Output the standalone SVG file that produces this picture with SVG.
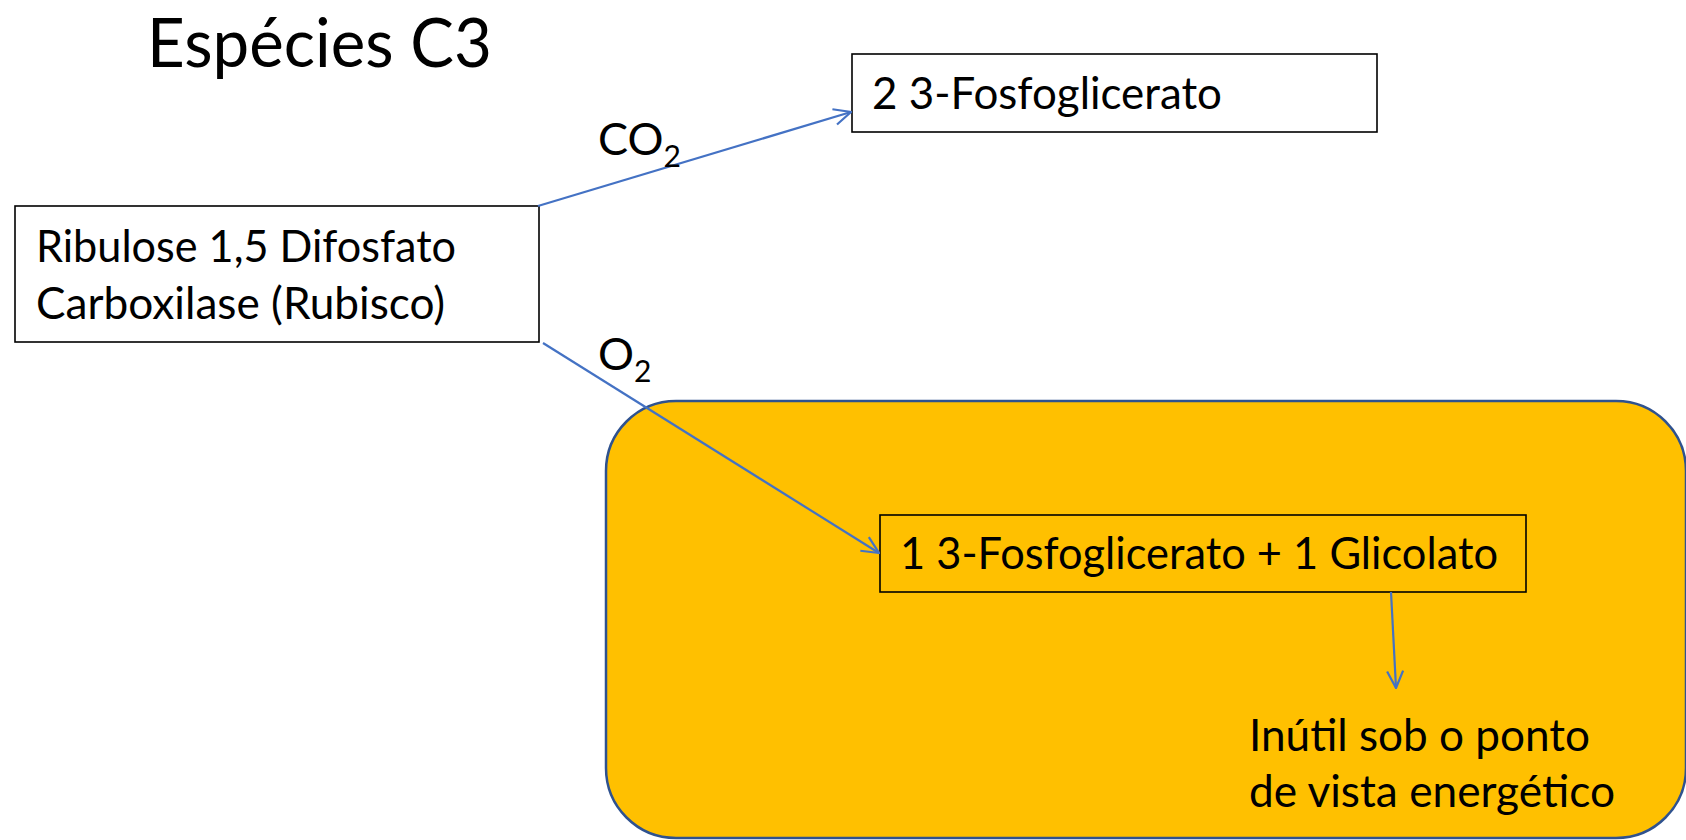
<svg xmlns="http://www.w3.org/2000/svg" width="1686" height="840" viewBox="0 0 1686 840">
<style>
.t{font-family:Lato,"Open Sans","Liberation Sans",sans-serif;fill:#000;}
.n{font-size:45px;}
.s{font-size:30px;}
.box{fill:#fff;stroke:#000;stroke-width:1.6;}
.boxc{fill:none;stroke:#000;stroke-width:1.6;}
.c{stroke:#4472C4;stroke-width:2.2;fill:none;marker-end:url(#ah);}
</style>
<defs>
<marker id="ah" viewBox="0 0 20 20" refX="19" refY="10" markerWidth="20" markerHeight="20" markerUnits="userSpaceOnUse" orient="auto">
<path d="M2,2 L19,10 L2,18" fill="none" stroke="#4472C4" stroke-width="2.2"/>
</marker>
</defs>
<rect width="1686" height="840" fill="#fff"/>
<text id="title" class="t" x="147" y="67" font-size="68" textLength="345" lengthAdjust="spacingAndGlyphs">Espécies C3</text>
<g id="zone">
<rect x="606" y="401" width="1080" height="437" rx="70" ry="70" fill="#FFC000" stroke="#2F528F" stroke-width="2.5"/>
</g>
<g id="rubisco">
<rect class="box" x="15" y="206" width="524" height="136"/>
<text class="t n" x="36" y="262" textLength="420" lengthAdjust="spacingAndGlyphs">Ribulose 1,5 Difosfato</text>
<text class="t n" x="36" y="319" textLength="409" lengthAdjust="spacingAndGlyphs">Carboxilase (Rubisco)</text>
</g>
<g id="fosfo2">
<rect class="box" x="852" y="54" width="525" height="78"/>
<text class="t n" x="872" y="109" textLength="350" lengthAdjust="spacingAndGlyphs">2 3-Fosfoglicerato</text>
</g>
<g id="fosfoglic">
<rect class="boxc" x="880" y="515" width="646" height="77"/>
<text class="t n" x="900" y="569" textLength="598" lengthAdjust="spacingAndGlyphs">1 3-Fosfoglicerato + 1 Glicolato</text>
</g>
<g id="inutil">
<text class="t n" x="1249" y="751" textLength="341" lengthAdjust="spacingAndGlyphs">Inútil sob o ponto</text>
<text class="t n" x="1249" y="807" textLength="366" lengthAdjust="spacingAndGlyphs">de vista energético</text>
</g>
<g id="connectors">
<line class="c" x1="538" y1="206" x2="851" y2="112"/>
<line class="c" x1="543" y1="343" x2="879" y2="553"/>
<line class="c" x1="1391" y1="592" x2="1396" y2="688"/>
</g>
<g id="labels">
<text class="t n" x="598" y="155">CO<tspan class="s" dy="12">2</tspan></text>
<text class="t n" x="598" y="370">O<tspan class="s" dy="12">2</tspan></text>
</g>
</svg>
